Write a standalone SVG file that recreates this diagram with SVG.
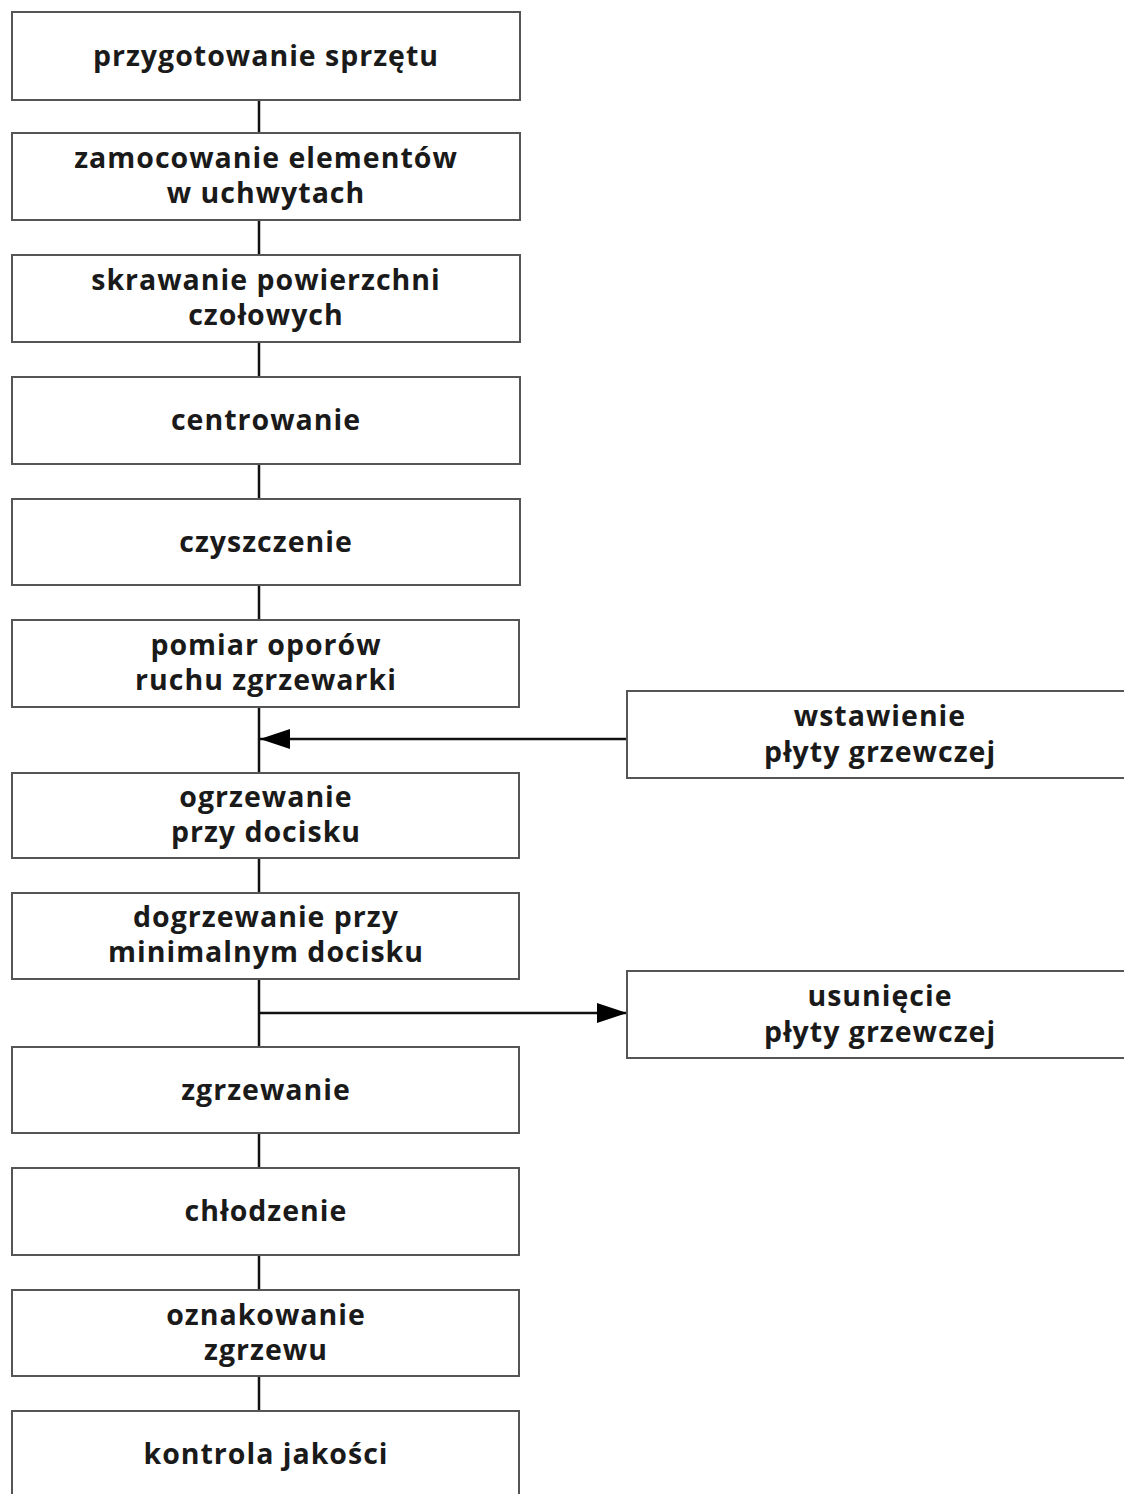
<svg xmlns="http://www.w3.org/2000/svg" width="1124" height="1494" viewBox="0 0 1124 1494">
<style>
.box{fill:#fff;stroke:#555;stroke-width:2}
.t{font-family:"Open Sans","Liberation Sans",sans-serif;font-weight:700;font-size:28.5px;letter-spacing:1px;fill:#1a1a1a;text-anchor:middle}
.c{stroke:#111;stroke-width:2.5;fill:none}
</style>
<defs>
<marker id="ah" markerWidth="30" markerHeight="20" refX="30" refY="10" orient="auto" markerUnits="userSpaceOnUse">
<path d="M0,0 L30,10 L0,20 Z" fill="#000"/>
</marker>
</defs>
<rect width="1124" height="1494" fill="#fff"/>
<g id="connectors">
<line class="c" x1="259" y1="100" x2="259" y2="1411"/>
<line class="c" x1="627" y1="739" x2="260" y2="739" marker-end="url(#ah)"/>
<line class="c" x1="259" y1="1013" x2="627" y2="1013" marker-end="url(#ah)"/>
</g>
<g id="n1"><rect class="box" x="12" y="12" width="508" height="88"/><text class="t" x="266" y="66">przygotowanie sprzętu</text></g>
<g id="n2"><rect class="box" x="12" y="133" width="508" height="87"/><text class="t" x="266" y="168">zamocowanie elementów</text><text class="t" x="266" y="203">w uchwytach</text></g>
<g id="n3"><rect class="box" x="12" y="255" width="508" height="87"/><text class="t" x="266" y="290">skrawanie powierzchni</text><text class="t" x="266" y="325">czołowych</text></g>
<g id="n4"><rect class="box" x="12" y="377" width="508" height="87"/><text class="t" x="266" y="430">centrowanie</text></g>
<g id="n5"><rect class="box" x="12" y="499" width="508" height="86"/><text class="t" x="266" y="552">czyszczenie</text></g>
<g id="n6"><rect class="box" x="12" y="620" width="507" height="87"/><text class="t" x="266" y="655">pomiar oporów</text><text class="t" x="266" y="690">ruchu zgrzewarki</text></g>
<g id="n7"><rect class="box" x="12" y="773" width="507" height="85"/><text class="t" x="266" y="807">ogrzewanie</text><text class="t" x="266" y="842">przy docisku</text></g>
<g id="n8"><rect class="box" x="12" y="893" width="507" height="86"/><text class="t" x="266" y="927">dogrzewanie przy</text><text class="t" x="266" y="962">minimalnym docisku</text></g>
<g id="n9"><rect class="box" x="12" y="1047" width="507" height="86"/><text class="t" x="266" y="1100">zgrzewanie</text></g>
<g id="n10"><rect class="box" x="12" y="1168" width="507" height="87"/><text class="t" x="266" y="1221">chłodzenie</text></g>
<g id="n11"><rect class="box" x="12" y="1290" width="507" height="86"/><text class="t" x="266" y="1325">oznakowanie</text><text class="t" x="266" y="1360">zgrzewu</text></g>
<g id="n12"><rect class="box" x="12" y="1411" width="507" height="100"/><text class="t" x="266" y="1464">kontrola jakości</text></g>
<g id="r1"><rect class="box" x="627" y="691" width="510" height="87"/><text class="t" x="880" y="726">wstawienie</text><text class="t" x="880" y="762">płyty grzewczej</text></g>
<g id="r2"><rect class="box" x="627" y="971" width="510" height="87"/><text class="t" x="880" y="1006">usunięcie</text><text class="t" x="880" y="1042">płyty grzewczej</text></g>
</svg>
